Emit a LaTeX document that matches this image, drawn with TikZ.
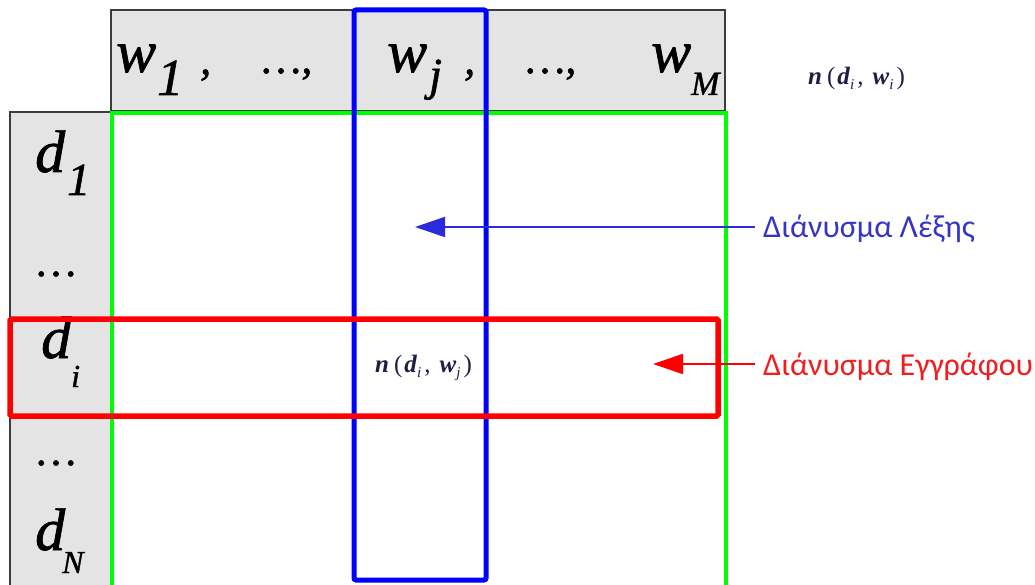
\documentclass[tikz,border=0pt]{standalone}
\usepackage{fontspec}
\usetikzlibrary{arrows.meta}
\newfontfamily\tnr{Liberation Serif}
\newfontfamily\tnrb[FakeBold=1.2]{Liberation Serif}
\newfontfamily\grkfont{Carlito}
\newcommand\fsz[1]{\fontsize{#1}{#1}\selectfont}
\definecolor{cellgray}{HTML}{E4E4E4}
\definecolor{edgegray}{HTML}{3C3C3C}
\definecolor{pgreen}{HTML}{00FF00}
\definecolor{pblue}{HTML}{0000FF}
\definecolor{pred}{HTML}{FF0000}
\definecolor{arrblue}{HTML}{2B2BD9}
\definecolor{txtblue}{HTML}{3535C8}
\definecolor{txtred}{HTML}{F01E1E}
\definecolor{navy}{HTML}{1E1E44}
\tikzset{
  sym/.style={inner sep=0pt, anchor=base west, text=black, font=\tnrb\itshape\fsz{#1}},
  graybox/.style={fill=cellgray, draw=edgegray, line width=1.3pt},
  frame/.style={line width=#1},
  small/.style={inner sep=0pt, anchor=base west, text=navy, font=\tnr\fsz{25}},
  glabel/.style={inner xsep=8pt, inner ysep=0pt, anchor=base west, font=\grkfont\fsz{32}},
  arr/.style={line width=1.8pt, -{Triangle[length=30pt,width=20pt]}},
}
\newcommand\nlab[2]{\textbf{\textit{n}}\hspace{5pt}(\hspace{2pt}\textbf{\textit{d}}\raisebox{-5pt}{\fsz{15}\textit{#1}}\hspace{3pt},\hspace{9pt}\textbf{\textit{w}}\raisebox{-5pt}{\fsz{15}\textit{#2}}\hspace{3pt})}
\begin{document}
\begin{tikzpicture}[x=1pt,y=-1pt]
\useasboundingbox (0,0) rectangle (1035,585);
\clip (0,0) rectangle (1035,585);
\fill[white] (0,0) rectangle (1035,585);
% gray header and side column
\draw[graybox] (111,10) rectangle (725,111);
\draw[graybox] (10,112) rectangle (111,600);
% header symbols
\node[sym=60] (w1) at (116,72) {w};
\node[sym=52] (w1s) at (157,95) {1};
\node[sym=44] (c1) at (200,74) {,};
\node[sym=44] (e1) at (262,73) {…,};
\node[sym=60] (wj) at (387,72) {w};
\node[sym=46] (wjs) at (429,90) {j};
\node[sym=44] (c2) at (464,74) {,};
\node[sym=44] (e2) at (526,73) {…,};
\node[sym=60] (wM) at (651,72) {w};
\node[sym=34] (wMs) at (691,95) {M};
% side symbols
\node[sym=60] (d1) at (35,172) {d};
\node[sym=46] (d1s) at (67,195) {1};
\node[sym=44] (v1) at (37,276) {…};
\node[sym=60] (di) at (41,358) {d};
\node[sym=32] (dis) at (71,387) {i};
\node[sym=44] (v2) at (37,465) {…};
\node[sym=60] (dN) at (35,550) {d};
\node[sym=32] (dNs) at (62,573) {N};
% frames
\draw[frame=4.5pt, pgreen] (112,113) rectangle (726,588);
\draw[frame=5pt, pblue, rounded corners=2pt] (354,10) rectangle (486,580);
\draw[frame=5.5pt, pred, rounded corners=1.5pt] (10,319) rectangle (718,416);
% cell labels
\node[small] (nij) at (375,372) {\nlab{i}{j}};
\node[small] (nii) at (808,85) {\nlab{i}{i}};
% vector labels and arrows
\node[glabel, text=txtblue] (lw) at (755,238) {Διάνυσμα Λέξης};
\node[glabel, text=txtred] (ld) at (755,375) {Διάνυσμα Εγγράφου};
\coordinate (tw) at (415,227);
\coordinate (td) at (653,364);
\draw[arr, arrblue] (lw.west |- tw) -- (tw);
\draw[arr, pred] (ld.west |- td) -- (td);
\end{tikzpicture}
\end{document}
